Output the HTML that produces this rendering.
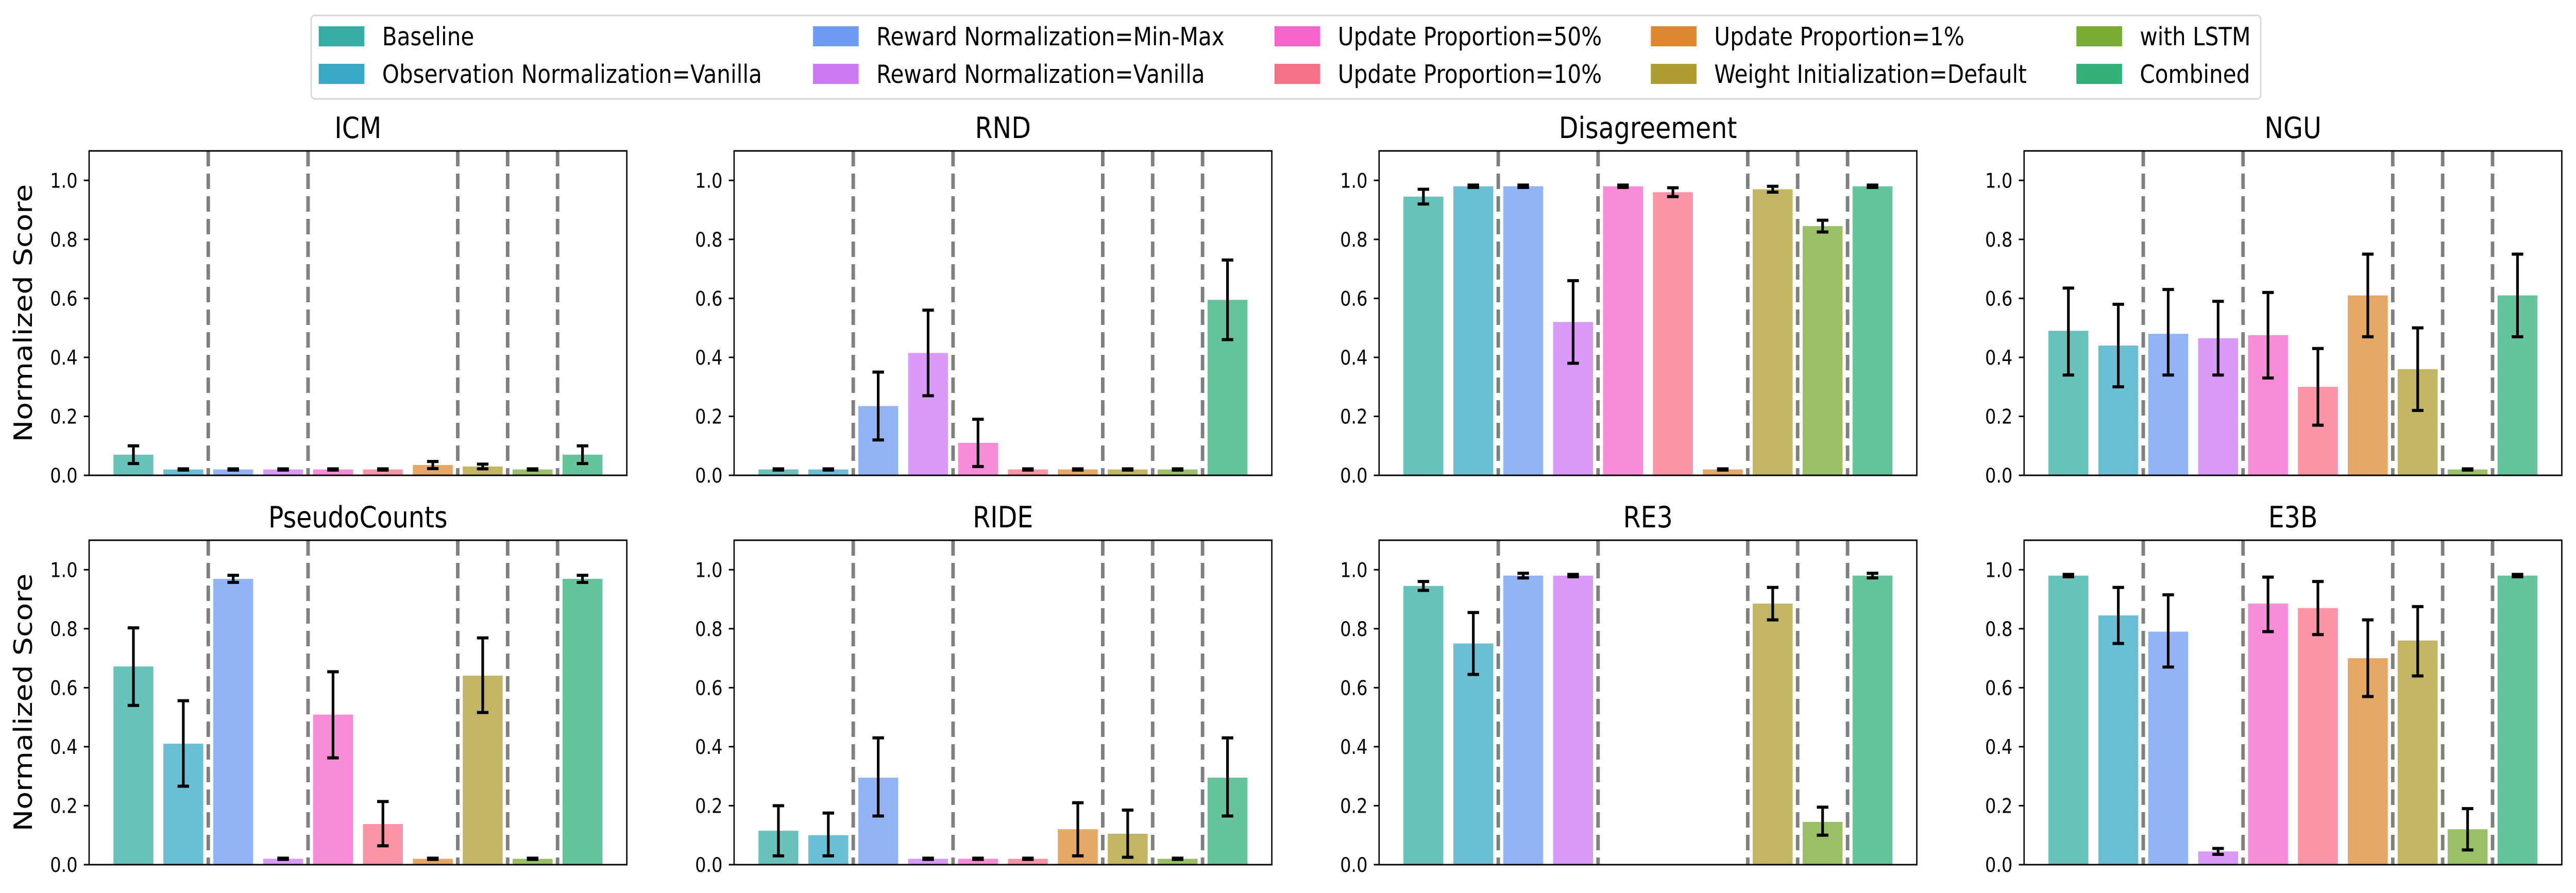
<!DOCTYPE html>
<html><head><meta charset="utf-8">
<style>
html,body{margin:0;padding:0;background:#fff;overflow:hidden;width:100%;height:100%;}
svg{display:block;width:100vw;height:100vh;font-family:"DejaVu Sans","Liberation Sans",sans-serif;}
</style></head>
<body>
<svg id="fig" viewBox="0 0 5811 1734" preserveAspectRatio="none" xmlns="http://www.w3.org/2000/svg"></svg>
<script>
const seriesNames = ["Baseline","Observation Normalization=Vanilla","Reward Normalization=Min-Max","Reward Normalization=Vanilla","Update Proportion=50%","Update Proportion=10%","Update Proportion=1%","Weight Initialization=Default","with LSTM","Combined"];
const seriesColors = ["#36ada4","#38a9c5","#6e9bf4","#cc7af4","#f565cc","#f77189","#dc8932","#ae9d31","#77ab31","#33b07a"];
const panelTitles = ["ICM","RND","Disagreement","NGU","PseudoCounts","RIDE","RE3","E3B"];
const yTicks = [0,0.2,0.4,0.6,0.8,1.0];
const yTickLabels = ["0.0","0.2","0.4","0.6","0.8","1.0"];
const separators = [1.5,3.5,6.5,7.5,8.5];
const valICM = [0.07,0.02,0.02,0.02,0.02,0.02,0.035,0.03,0.02,0.07];
const lowICM = [0.04,0.018,0.018,0.018,0.018,0.018,0.023,0.022,0.018,0.04];
const highICM = [0.10,0.022,0.022,0.022,0.022,0.022,0.047,0.038,0.022,0.10];
const valRND = [0.02,0.02,0.235,0.415,0.11,0.02,0.02,0.02,0.02,0.595];
const lowRND = [0.018,0.018,0.12,0.27,0.03,0.018,0.018,0.018,0.018,0.46];
const highRND = [0.022,0.022,0.35,0.56,0.19,0.022,0.022,0.022,0.022,0.73];
const valDis = [0.945,0.98,0.98,0.52,0.98,0.96,0.02,0.97,0.845,0.98];
const lowDis = [0.92,0.976,0.976,0.38,0.976,0.945,0.018,0.96,0.825,0.976];
const highDis = [0.97,0.984,0.984,0.66,0.984,0.975,0.022,0.98,0.865,0.984];
const valNGU = [0.49,0.44,0.48,0.465,0.475,0.30,0.61,0.36,0.02,0.61];
const lowNGU = [0.34,0.30,0.34,0.34,0.33,0.17,0.47,0.22,0.018,0.47];
const highNGU = [0.635,0.58,0.63,0.59,0.62,0.43,0.75,0.50,0.022,0.75];
const valPC = [0.672,0.41,0.969,0.02,0.509,0.138,0.02,0.641,0.02,0.969];
const lowPC = [0.540,0.266,0.957,0.018,0.362,0.064,0.018,0.516,0.018,0.957];
const highPC = [0.803,0.556,0.981,0.022,0.654,0.214,0.022,0.769,0.022,0.981];
const valRIDE = [0.115,0.10,0.295,0.02,0.02,0.02,0.12,0.105,0.02,0.295];
const lowRIDE = [0.03,0.03,0.165,0.018,0.018,0.018,0.03,0.025,0.018,0.165];
const highRIDE = [0.20,0.175,0.43,0.022,0.022,0.022,0.21,0.185,0.022,0.43];
const valRE3 = [0.945,0.75,0.98,0.98,null,null,null,0.885,0.145,0.98];
const lowRE3 = [0.93,0.645,0.972,0.976,null,null,null,0.83,0.10,0.972];
const highRE3 = [0.96,0.855,0.988,0.984,null,null,null,0.94,0.195,0.988];
const valE3B = [0.98,0.845,0.79,0.045,0.885,0.87,0.70,0.76,0.12,0.98];
const lowE3B = [0.976,0.75,0.67,0.035,0.79,0.78,0.57,0.64,0.05,0.976];
const highE3B = [0.984,0.94,0.915,0.055,0.975,0.96,0.83,0.875,0.19,0.984];
const panelVals = [valICM,valRND,valDis,valNGU,valPC,valRIDE,valRE3,valE3B];
const panelLows = [lowICM,lowRND,lowDis,lowNGU,lowPC,lowRIDE,lowRE3,lowE3B];
const panelHighs = [highICM,highRND,highDis,highNGU,highPC,highRIDE,highRE3,highE3B];

const NS="http://www.w3.org/2000/svg";
const svg=document.getElementById('fig');
function mk(tag,attrs,parent){const e=document.createElementNS(NS,tag);for(const k in attrs)e.setAttribute(k,attrs[k]);(parent||svg).appendChild(e);return e;}

const colX=[201,1656,3111,4566], rowY=[293,1049], W=1213, H=630;
const xmin=-0.888, xmax=9.888, ymax=1.1;

for(let p=0;p<8;p++){
  const r=Math.floor(p/4), c=p%4;
  const L=colX[c], T=rowY[r], B=T+H;
  const xs=v=>L+(v-xmin)/(xmax-xmin)*W;
  const ys=v=>B-v/ymax*H;
  const g=mk('g',{});
  
  
  const t=mk('text',{x:L+W/2,y:T-25,'text-anchor':'middle','font-size':57,fill:'#000'},g);
  t.textContent=panelTitles[p];
  
  
  const vals=panelVals[p], lo=panelLows[p], hi=panelHighs[p];
  for(let i=0;i<10;i++){
    if(vals[i]===null) continue;
    const bw=0.8*W/(xmax-xmin);
    const b=mk('rect',{x:xs(i)-bw/2,y:ys(vals[i]),width:bw,height:B-ys(vals[i]),fill:seriesColors[i],'fill-opacity':0.75},g);
    
    
  }
  for(const s of separators){
    const d=mk('line',{x1:xs(s),x2:xs(s),y1:T,y2:B,stroke:'#808080','stroke-width':8,'stroke-dasharray':'30 14'},g);
    
    
  }
  for(let i=0;i<10;i++){
    if(vals[i]===null) continue;
    const e=mk('g',{stroke:'#000','stroke-width':6},g);
    
    
    const x=xs(i);
    mk('line',{x1:x,x2:x,y1:ys(lo[i]),y2:ys(hi[i])},e);
    mk('line',{x1:x-13,x2:x+13,y1:ys(lo[i]),y2:ys(lo[i])},e);
    mk('line',{x1:x-13,x2:x+13,y1:ys(hi[i]),y2:ys(hi[i])},e);
  }
  const fr=mk('rect',{x:L,y:T,width:W,height:H,fill:'none',stroke:'#000','stroke-width':3},g);
  
  
  for(let k=0;k<yTicks.length;k++){
    const y=ys(yTicks[k]);
    mk('line',{x1:L-12,x2:L,y1:y,y2:y,stroke:'#000','stroke-width':3},g);
    const tl=mk('text',{x:L-26,y:y+14,'text-anchor':'end','font-size':39,fill:'#000'},g);
    tl.textContent=yTickLabels[k];
    
    
  }
  if(c===0){
    const yl=mk('text',{x:0,y:0,'text-anchor':'middle','font-size':57,fill:'#000',transform:`translate(72,${T+H/2}) rotate(-90)`},g);
    yl.textContent='Normalized Score';
    
    
  }
}

const lg=mk('g',{});


mk('rect',{x:702,y:30,width:4398,height:162,rx:8,fill:'#fff',stroke:'#d6d6d6','stroke-width':3},lg);
const colPatchX=[719,1834,2875,3724,4684], rowPatchY=[51,124];
for(let i=0;i<10;i++){
  const c=Math.floor(i/2), r=i%2;
  const e=mk('g',{},lg);
  
  
  mk('rect',{x:colPatchX[c],y:rowPatchY[r],width:103,height:39,fill:seriesColors[i]},e);
  const tx=mk('text',{x:colPatchX[c]+143,y:rowPatchY[r]+37,'font-size':49,fill:'#000'},e);
  tx.textContent=seriesNames[i];
}
</script>
</body></html>
